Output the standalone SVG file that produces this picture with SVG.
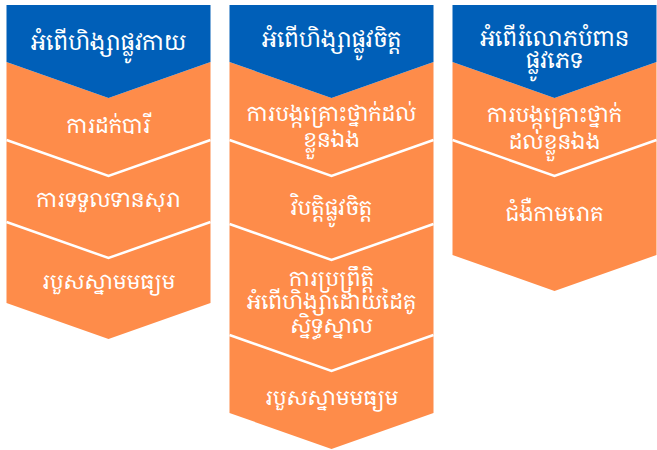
<svg xmlns="http://www.w3.org/2000/svg" width="657" height="450" viewBox="0 0 657 450">
<style>
.hdr{fill:#005FB8}
.seg{fill:#FE8C4A}
.sep{fill:none;stroke:#FFFFFF;stroke-width:2.5}
text{font-family:"Noto Serif Khmer","Khmer OS Battambang","Noto Sans Khmer","Khmer OS",serif;fill:#FFFFFF;text-anchor:middle;font-size:21px}
.h{font-size:22px}
</style>
<rect width="657" height="450" fill="#FFFFFF"/>
<!-- Column 1 -->
<g id="c1-s1"><polygon class="seg" points="6.5,62 108.5,98 210.5,62 210.5,140 108.5,176 6.5,140"/><text x="108.5" y="133">ការដក់បារី</text></g>
<g id="c1-s2"><polygon class="seg" points="6.5,140 108.5,176 210.5,140 210.5,222 108.5,258 6.5,222"/><text x="108.5" y="207">ការទទួលទានសុរា</text></g>
<g id="c1-s3"><polygon class="seg" points="6.5,222 108.5,258 210.5,222 210.5,303 108.5,339 6.5,303"/><text x="108.5" y="289">របួសស្នាមមធ្យម</text></g>
<g id="c1-h"><polygon class="hdr" points="6.5,5 210.5,5 210.5,62 108.5,98 6.5,62"/><text class="h" x="108.5" y="50">អំពើហិង្សាផ្លូវកាយ</text></g>
<!-- Column 2 -->
<g id="c2-s1"><polygon class="seg" points="229.5,62 331.5,98 433.5,62 433.5,140 331.5,176 229.5,140"/><text x="331.5" y="121">ការបង្កគ្រោះថ្នាក់ដល់</text><text x="331.5" y="147">ខ្លួនឯង</text></g>
<g id="c2-s2"><polygon class="seg" points="229.5,140 331.5,176 433.5,140 433.5,224 331.5,260 229.5,224"/><text x="331.5" y="215">វិបត្តិផ្លូវចិត្ត</text></g>
<g id="c2-s3"><polygon class="seg" points="229.5,224 331.5,260 433.5,224 433.5,335 331.5,371 229.5,335"/><text x="331.5" y="286">ការប្រព្រឹត្តិ</text><text x="331.5" y="309">អំពើហិង្សាដោយដៃគូ</text><text x="331.5" y="333">ស្និទ្ធស្នាល</text></g>
<g id="c2-s4"><polygon class="seg" points="229.5,335 331.5,371 433.5,335 433.5,413 331.5,449 229.5,413"/><text x="331.5" y="405">របួសស្នាមមធ្យម</text></g>
<g id="c2-h"><polygon class="hdr" points="229.5,5 433.5,5 433.5,62 331.5,98 229.5,62"/><text class="h" x="331.5" y="47">អំពើហិង្សាផ្លូវចិត្ត</text></g>
<!-- Column 3 -->
<g id="c3-s1"><polygon class="seg" points="452.5,62 554.5,98 656.5,62 656.5,140 554.5,176 452.5,140"/><text x="554.5" y="122">ការបង្កុគ្រោះថ្នាក់</text><text x="554.5" y="149">ដល់ខ្លួនឯង</text></g>
<g id="c3-s2"><polygon class="seg" points="452.5,140 554.5,176 656.5,140 656.5,255 554.5,291 452.5,255"/><text x="554.5" y="221">ជំងឺកាមរោគ</text></g>
<g id="c3-h"><polygon class="hdr" points="452.5,5 656.5,5 656.5,62 554.5,98 452.5,62"/><text class="h" x="554.5" y="46">អំពើរំលោភបំពាន</text><text class="h" x="554.5" y="68">ផ្លូវភេទ</text></g>
<!-- Separators -->
<g id="connectors">
<polyline class="sep" points="6.5,140 108.5,176 210.5,140"/>
<polyline class="sep" points="6.5,222 108.5,258 210.5,222"/>
<polyline class="sep" points="229.5,140 331.5,176 433.5,140"/>
<polyline class="sep" points="229.5,224 331.5,260 433.5,224"/>
<polyline class="sep" points="229.5,335 331.5,371 433.5,335"/>
<polyline class="sep" points="452.5,140 554.5,176 656.5,140"/>
</g>
</svg>
